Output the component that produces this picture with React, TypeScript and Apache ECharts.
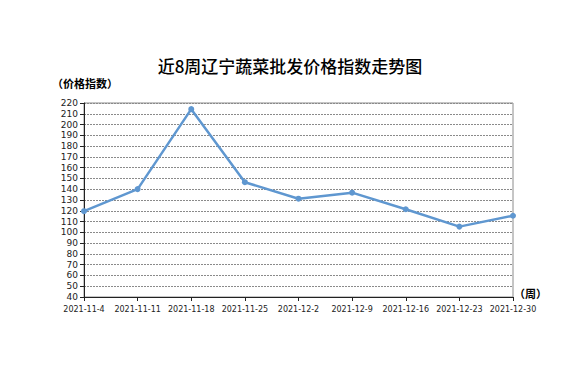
import React, { useEffect, useRef } from "react";
import * as echarts from "echarts";

const categories = [
  "2021-11-4",
  "2021-11-11",
  "2021-11-18",
  "2021-11-25",
  "2021-12-2",
  "2021-12-9",
  "2021-12-16",
  "2021-12-23",
  "2021-12-30",
];
const values = [119.6, 140.1, 214.3, 146.5, 131.2, 136.8, 121.4, 105.3, 115.4];
const titleText = "近8周辽宁蔬菜批发价格指数走势图";
const yAxisName = "（价格指数）";
const xAxisName = "（周）";

export default function App() {
  const ref = useRef<HTMLDivElement>(null);
  useEffect(() => {
    if (!ref.current) return;
    const chart = echarts.init(ref.current, undefined, { renderer: "svg" });
    const font = "'Noto Sans CJK SC', 'Noto Sans', sans-serif";
    const numFont = "'DejaVu Sans', sans-serif";
    chart.setOption({
      animation: false,
      backgroundColor: "#ffffff",
      title: {
        text: titleText,
        left: "center",
        top: 52,
        textStyle: { fontFamily: font, fontSize: 17, fontWeight: 500, color: "#000" },
      },
      graphic: [
        {
          type: "text",
          left: 52,
          top: 77,
          style: { text: yAxisName, font: `bold 11px ${font}`, fill: "#000" },
        },
        {
          type: "text",
          left: 514,
          top: 287,
          style: { text: xAxisName, font: `bold 11px ${font}`, fill: "#000" },
        },
      ],
      grid: {
        left: 84,
        right: 67,
        top: 103,
        bottom: 80,
        show: true,
        borderColor: "#8c8c8c",
        borderWidth: 1,
      },
      xAxis: {
        type: "category",
        data: categories,
        boundaryGap: false,
        axisLine: { lineStyle: { color: "#222", width: 1 } },
        axisTick: { show: true, alignWithLabel: true, length: 4, lineStyle: { color: "#222" } },
        axisLabel: { interval: 0, fontSize: 8, color: "#222", fontFamily: numFont, margin: 8 },
        splitLine: { show: false },
      },
      yAxis: {
        type: "value",
        min: 40,
        max: 220,
        interval: 10,
        axisLine: { show: true, lineStyle: { color: "#222", width: 1 } },
        axisTick: { show: true, length: 4, lineStyle: { color: "#222" } },
        axisLabel: {
          fontSize: 9,
          lineHeight: 10,
          color: "#222",
          fontFamily: numFont,
          margin: 6,
          showMinLabel: true,
          showMaxLabel: true,
          hideOverlap: false,
        },
        splitLine: { show: true, lineStyle: { type: [2, 1], color: "#8a8a8a", width: 1 } },
      },
      series: [
        {
          type: "line",
          data: values,
          symbol: "circle",
          symbolSize: 6,
          lineStyle: { color: "#5f97d0", width: 2.5 },
          itemStyle: { color: "#5f97d0" },
        },
      ],
    });
    return () => chart.dispose();
  }, []);
  return (
    <div
      ref={ref}
      style={{ position: "absolute", left: 0, top: 0, width: 580, height: 377 }}
    />
  );
}
